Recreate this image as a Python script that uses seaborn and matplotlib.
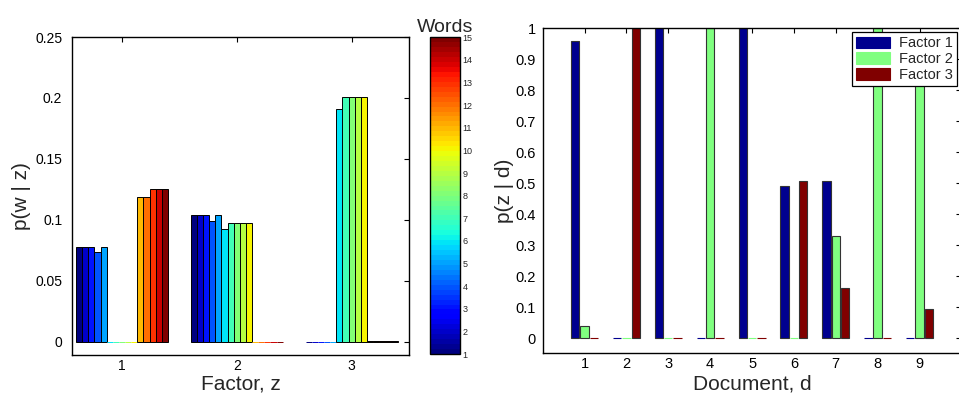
import matplotlib
matplotlib.use("Agg")
import matplotlib.pyplot as plt
import numpy as np
import pandas as pd
import seaborn as sns
from matplotlib.ticker import FormatStrFormatter, FixedLocator
from matplotlib.colors import Normalize
from matplotlib.cm import ScalarMappable

# ---------------- data ----------------
factors = ["1", "2", "3"]
words = [str(i) for i in range(1, 16)]
pwz_factor1 = [0.078, 0.078, 0.078, 0.074, 0.078, 0, 0, 0, 0, 0,
               0.1186, 0.1186, 0.125, 0.125, 0.125]
pwz_factor2 = [0.104, 0.104, 0.104, 0.099, 0.104, 0.0926, 0.0978, 0.0978, 0.0978, 0.0978,
               0, 0, 0, 0, 0]
pwz_factor3 = [0, 0, 0, 0, 0, 0.1907, 0.2006, 0.2006, 0.2006, 0.2006,
               0.001, 0.001, 0.001, 0.001, 0.001]

documents = [str(i) for i in range(1, 10)]
factor_names = ["Factor 1", "Factor 2", "Factor 3"]
pzd_factor1 = [0.96, 0, 1, 0, 1, 0.492, 0.507, 0, 0]
pzd_factor2 = [0.04, 0, 0, 1, 0, 0, 0.33, 1, 0.905]
pzd_factor3 = [0, 1, 0, 0, 0, 0.508, 0.163, 0, 0.095]

left_yticks = [0, 0.05, 0.1, 0.15, 0.2, 0.25]
right_yticks = [0, 0.1, 0.2, 0.3, 0.4, 0.5, 0.6, 0.7, 0.8, 0.9, 1]
cbar_ticks = list(range(1, 16))

# ---------------- style ----------------
sns.set_theme(style="white")
plt.rcParams["font.family"] = ["Liberation Sans", "DejaVu Sans"]
plt.rcParams["axes.edgecolor"] = "black"
plt.rcParams["axes.linewidth"] = 1.0

fig = plt.figure(figsize=(9.59, 3.96), dpi=100)
W, H = 959, 396

def fig_rect(x0, y0, x1, y1):
    return [x0 / W, 1 - y1 / H, (x1 - x0) / W, (y1 - y0) / H]

ax1 = fig.add_axes(fig_rect(72, 37, 409, 355))
cax = fig.add_axes(fig_rect(429.5, 37.3, 460, 354))
ax2 = fig.add_axes(fig_rect(542.7, 28.3, 961.4, 353.3))

# ---------------- left: p(w|z) ----------------
jet = plt.get_cmap("jet", 64)
word_colors = {w: jet(i / (len(words) - 1)) for i, w in enumerate(words)}

rows = []
for f, vals in zip(factors, [pwz_factor1, pwz_factor2, pwz_factor3]):
    for w, v in zip(words, vals):
        rows.append({"factor": f, "word": w, "p": v})
df1 = pd.DataFrame(rows)

sns.barplot(data=df1, x="factor", y="p", hue="word", order=factors, hue_order=words,
            palette=word_colors, width=0.8, edgecolor="black", linewidth=0.7,
            legend=False, ax=ax1, errorbar=None, saturation=1)
for p in ax1.patches:
    if p.get_height() == 0:
        p.set_edgecolor(p.get_facecolor())

ax1.set_xlim(-0.435, 2.5)
ax1.set_ylim(-0.0107, 0.25)
ax1.yaxis.set_major_locator(FixedLocator(left_yticks))
ax1.yaxis.set_major_formatter(FormatStrFormatter("%g"))
ax1.set_xlabel("Factor, z", fontsize=15, labelpad=1)
ax1.set_ylabel("p(w | z)", fontsize=15, labelpad=3)
ax1.tick_params(direction="in", top=True, right=True, length=3.5, width=0.8,
                labelsize=10, colors="black")
ax1.tick_params(axis="y", pad=7)
ax1.tick_params(axis="x", pad=3)
for s in ax1.spines.values():
    s.set_visible(True)
    s.set_color("black")

# colorbar
sm = ScalarMappable(norm=Normalize(1, 15), cmap=jet)
cb = fig.colorbar(sm, cax=cax)
cb.set_ticks(cbar_ticks)
cax.tick_params(direction="in", left=True, right=True, length=2.5, width=0.6,
                labelsize=6.5, pad=2)
cb.outline.set_linewidth(1.0)
cax.set_title("Words", fontsize=14, pad=4)

# ---------------- right: p(z|d) ----------------
rows = []
for fname, vals in zip(factor_names, [pzd_factor1, pzd_factor2, pzd_factor3]):
    for d, v in zip(documents, vals):
        rows.append({"doc": d, "factor": fname, "p": v})
df2 = pd.DataFrame(rows)
fac_colors = {"Factor 1": "#00008F", "Factor 2": "#80FF80", "Factor 3": "#800000"}

sns.barplot(data=df2, x="doc", y="p", hue="factor", order=documents, hue_order=factor_names,
            palette=fac_colors, width=2 / 3, gap=0.1, edgecolor="#333333", linewidth=0.8,
            ax=ax2, errorbar=None, saturation=1)
for p in ax2.patches:
    if p.get_height() == 0:
        p.set_edgecolor(p.get_facecolor())

ax2.set_xlim(-1, 9)
ax2.set_ylim(-0.048, 1)
ax2.yaxis.set_major_locator(FixedLocator(right_yticks))
ax2.yaxis.set_major_formatter(FormatStrFormatter("%g"))
ax2.set_xlabel("Document, d", fontsize=15, labelpad=2)
ax2.set_ylabel("p(z | d)", fontsize=15, labelpad=1)
ax2.tick_params(direction="in", top=True, right=True, length=3.5, width=0.8,
                labelsize=10.5, colors="black")
ax2.tick_params(axis="y", pad=5)
ax2.tick_params(axis="x", pad=3)
for s in ax2.spines.values():
    s.set_visible(True)
    s.set_color("black")

handles, labels = ax2.get_legend_handles_labels()
leg = ax2.legend(handles, labels, loc="upper right",
                 bbox_to_anchor=(957 / W, 1 - 32 / H), bbox_transform=fig.transFigure,
                 borderaxespad=0, fontsize=10.5, frameon=True, fancybox=False,
                 edgecolor="black", framealpha=1, borderpad=0.3, labelspacing=0.12,
                 handlelength=2.3, handleheight=0.85, handletextpad=0.6)
leg.get_frame().set_linewidth(0.9)

fig.savefig("out.png", dpi=100)
